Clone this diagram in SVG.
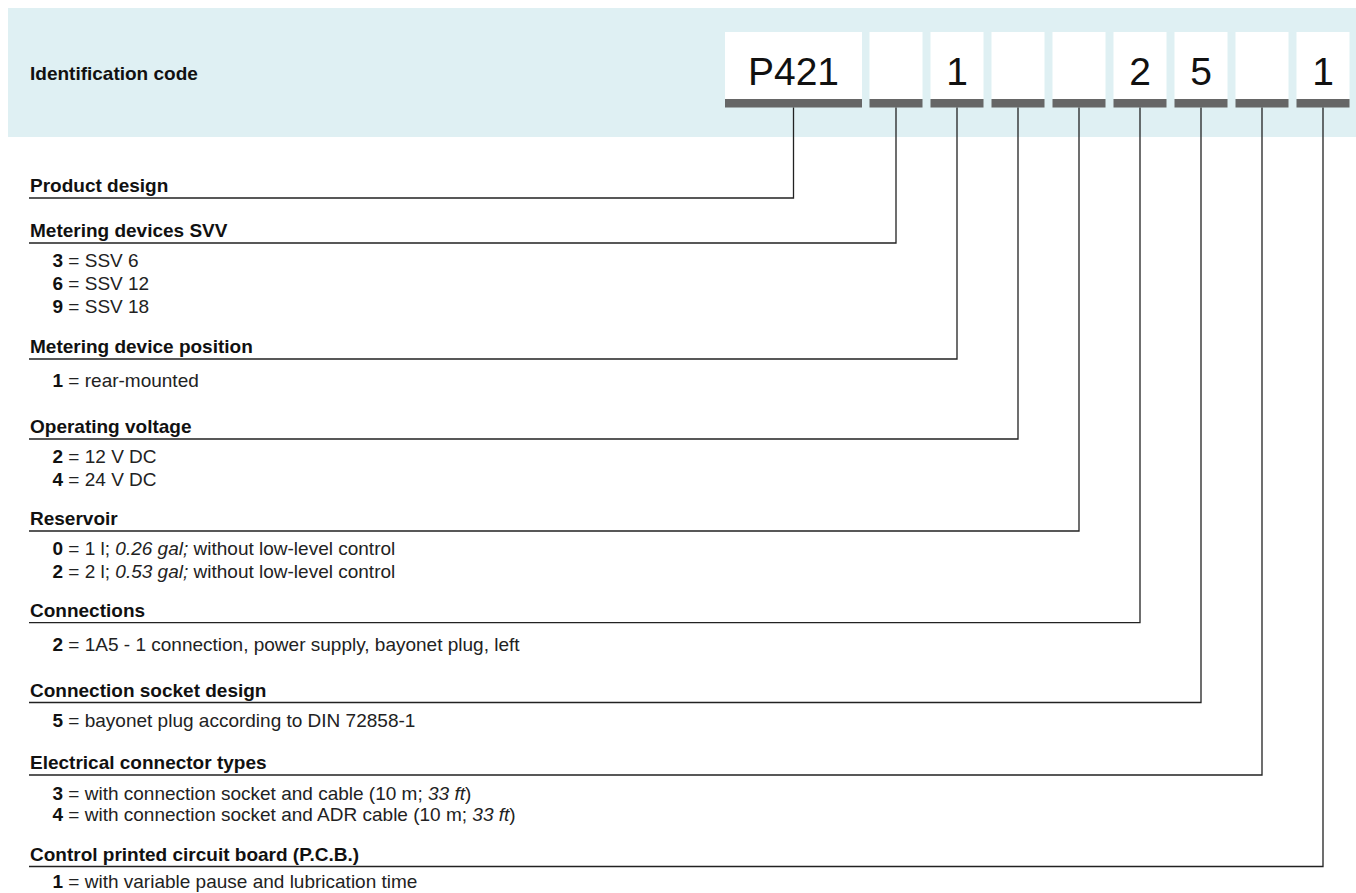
<svg xmlns="http://www.w3.org/2000/svg" width="1356" height="893" viewBox="0 0 1356 893">
<style>
  .h { font-family: "Liberation Sans", Arial, sans-serif; font-size: 19px; font-weight: bold; fill: #111; }
  .t { font-family: "Liberation Sans", Arial, sans-serif; font-size: 19px; fill: #222; }
  .b { font-weight: bold; fill: #111; }
  .i { font-style: italic; }
  .code { font-family: "Liberation Sans", Arial, sans-serif; font-size: 39px; fill: #111; text-anchor: middle; }
  .box { fill: #ffffff; }
  .bar { fill: #666666; }
  .conn { fill: none; stroke: #222; stroke-width: 1.3; }
</style>
<rect x="0" y="0" width="1356" height="893" fill="#ffffff"/>
<g id="header">
  <rect x="8" y="8" width="1348" height="129" fill="#dff0f3"/>
  <text class="h" x="30" y="80">Identification code</text>
</g>
<g id="code-boxes">
  <g id="box-1"><rect class="box" x="725" y="32" width="137" height="67"/><rect class="bar" x="725" y="99" width="137" height="8.5"/><text class="code" x="793.5" y="84.5">P421</text></g>
  <g id="box-2"><rect class="box" x="869.5" y="32" width="53" height="67"/><rect class="bar" x="869.5" y="99" width="53" height="8.5"/></g>
  <g id="box-3"><rect class="box" x="930.5" y="32" width="53" height="67"/><rect class="bar" x="930.5" y="99" width="53" height="8.5"/><text class="code" x="957" y="84.5">1</text></g>
  <g id="box-4"><rect class="box" x="991.5" y="32" width="53" height="67"/><rect class="bar" x="991.5" y="99" width="53" height="8.5"/></g>
  <g id="box-5"><rect class="box" x="1052.5" y="32" width="53" height="67"/><rect class="bar" x="1052.5" y="99" width="53" height="8.5"/></g>
  <g id="box-6"><rect class="box" x="1113.5" y="32" width="53" height="67"/><rect class="bar" x="1113.5" y="99" width="53" height="8.5"/><text class="code" x="1140" y="84.5">2</text></g>
  <g id="box-7"><rect class="box" x="1174.5" y="32" width="53" height="67"/><rect class="bar" x="1174.5" y="99" width="53" height="8.5"/><text class="code" x="1201" y="84.5">5</text></g>
  <g id="box-8"><rect class="box" x="1235.5" y="32" width="53" height="67"/><rect class="bar" x="1235.5" y="99" width="53" height="8.5"/></g>
  <g id="box-9"><rect class="box" x="1296.5" y="32" width="53" height="67"/><rect class="bar" x="1296.5" y="99" width="53" height="8.5"/><text class="code" x="1323" y="84.5">1</text></g>
</g>
<g id="connectors">
  <path class="conn" d="M793.5 107.5 V198 H29"/>
  <path class="conn" d="M896 107.5 V243 H29"/>
  <path class="conn" d="M957 107.5 V359 H29"/>
  <path class="conn" d="M1018 107.5 V439 H29"/>
  <path class="conn" d="M1079 107.5 V531 H29"/>
  <path class="conn" d="M1140 107.5 V622.7 H29"/>
  <path class="conn" d="M1201 107.5 V702.5 H29"/>
  <path class="conn" d="M1262 107.5 V775 H29"/>
  <path class="conn" d="M1323 107.5 V866.5 H29"/>
</g>
<g id="product-design">
  <text class="h" x="30" y="192">Product design</text>
</g>
<g id="metering-devices">
  <text class="h" x="30" y="237">Metering devices SVV</text>
  <text class="t" x="52.5" y="267"><tspan class="b">3</tspan> = SSV 6</text>
  <text class="t" x="52.5" y="290"><tspan class="b">6</tspan> = SSV 12</text>
  <text class="t" x="52.5" y="313"><tspan class="b">9</tspan> = SSV 18</text>
</g>
<g id="metering-position">
  <text class="h" x="30" y="353">Metering device position</text>
  <text class="t" x="52.5" y="386.5"><tspan class="b">1</tspan> = rear-mounted</text>
</g>
<g id="operating-voltage">
  <text class="h" x="30" y="433">Operating voltage</text>
  <text class="t" x="52.5" y="462.5"><tspan class="b">2</tspan> = 12 V DC</text>
  <text class="t" x="52.5" y="485.5"><tspan class="b">4</tspan> = 24 V DC</text>
</g>
<g id="reservoir">
  <text class="h" x="30" y="525">Reservoir</text>
  <text class="t" x="52.5" y="555"><tspan class="b">0</tspan> = 1 l; <tspan class="i">0.26 gal;</tspan> without low-level control</text>
  <text class="t" x="52.5" y="577.5"><tspan class="b">2</tspan> = 2 l; <tspan class="i">0.53 gal;</tspan> without low-level control</text>
</g>
<g id="connections">
  <text class="h" x="30" y="617">Connections</text>
  <text class="t" x="52.5" y="651"><tspan class="b">2</tspan> = 1A5 - 1 connection, power supply, bayonet plug, left</text>
</g>
<g id="socket-design">
  <text class="h" x="30" y="696.5">Connection socket design</text>
  <text class="t" x="52.5" y="726.5"><tspan class="b">5</tspan> = bayonet plug according to DIN 72858-1</text>
</g>
<g id="electrical-connector">
  <text class="h" x="30" y="769">Electrical connector types</text>
  <text class="t" x="52.5" y="799.5"><tspan class="b">3</tspan> = with connection socket and cable (10 m; <tspan class="i">33 ft</tspan>)</text>
  <text class="t" x="52.5" y="821"><tspan class="b">4</tspan> = with connection socket and ADR cable (10 m; <tspan class="i">33 ft</tspan>)</text>
</g>
<g id="control-pcb">
  <text class="h" x="30" y="860.5">Control printed circuit board (P.C.B.)</text>
  <text class="t" x="52.5" y="888"><tspan class="b">1</tspan> = with variable pause and lubrication time</text>
</g>
</svg>
